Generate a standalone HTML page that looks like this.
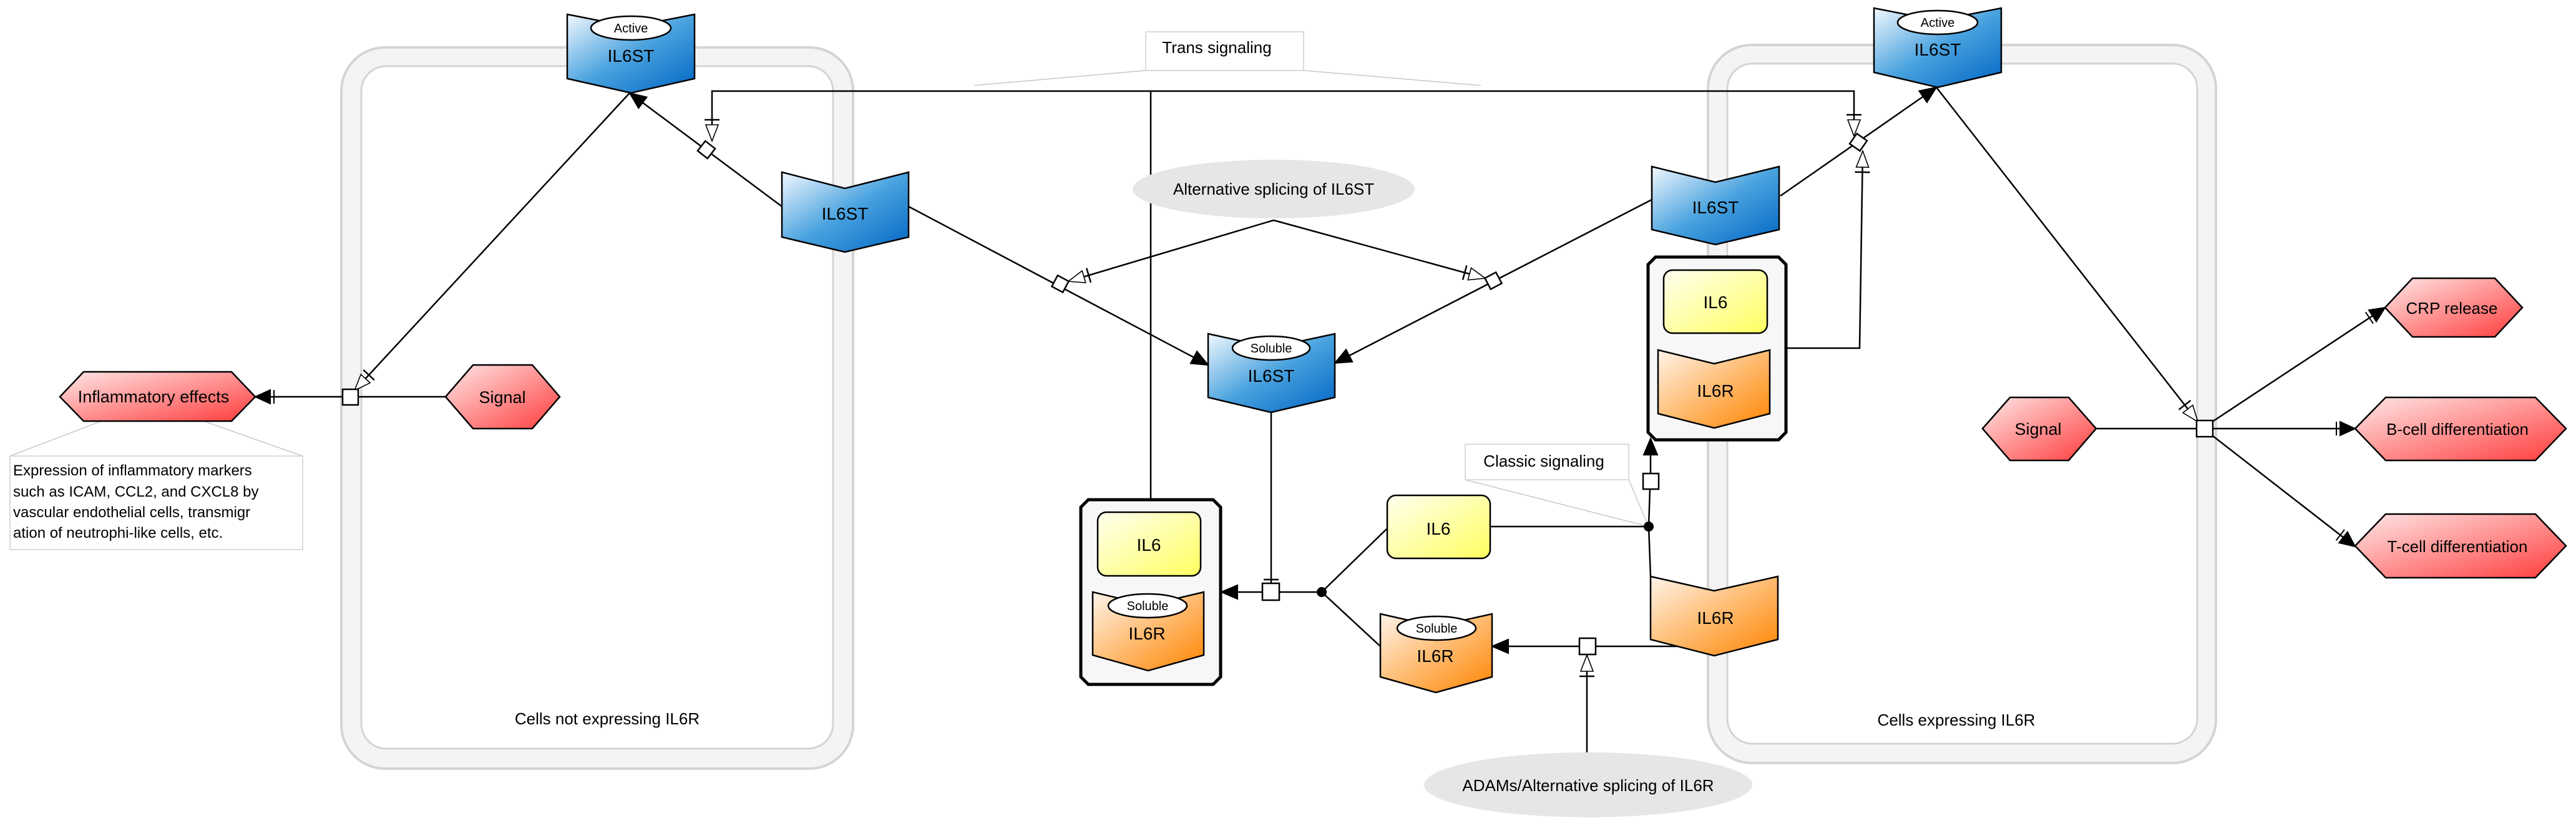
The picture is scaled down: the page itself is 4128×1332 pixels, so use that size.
<!DOCTYPE html>
<html><head><meta charset="utf-8"><style>
html,body{margin:0;padding:0;background:#fff}
svg{display:block}
text{font-family:"Liberation Sans",Arial,sans-serif;fill:#000}
</style></head><body>
<svg width="4128" height="1332" viewBox="0 0 4128 1332" xmlns="http://www.w3.org/2000/svg">
<defs>
<linearGradient id="gb" x1="0" y1="0" x2="1" y2="1"><stop offset="0" stop-color="#f2f8fe"/><stop offset="0.5" stop-color="#4aa3df"/><stop offset="1" stop-color="#0064c4"/></linearGradient>
<linearGradient id="go" x1="0" y1="0" x2="1" y2="1"><stop offset="0" stop-color="#fff4ea"/><stop offset="0.5" stop-color="#ffbb70"/><stop offset="1" stop-color="#ff8400"/></linearGradient>
<linearGradient id="gy" x1="0" y1="0" x2="1" y2="1"><stop offset="0" stop-color="#fffff0"/><stop offset="1" stop-color="#ffff60"/></linearGradient>
<linearGradient id="gr" x1="0" y1="0" x2="1" y2="1"><stop offset="0" stop-color="#ffe8e8"/><stop offset="1" stop-color="#ff3b3b"/></linearGradient>
<marker id="fa" markerUnits="userSpaceOnUse" markerWidth="40" markerHeight="30" refX="36" refY="15" orient="auto" overflow="visible">
<path d="M6,4 L6,26 M36,15 L12,4 L12,26 Z" fill="#000" stroke="#000" stroke-width="2"/></marker>
<marker id="fn" markerUnits="userSpaceOnUse" markerWidth="40" markerHeight="30" refX="36" refY="15" orient="auto" overflow="visible">
<path d="M36,15 L10,4 L10,26 Z" fill="#000" stroke="#000" stroke-width="2"/></marker>
<marker id="oa" markerUnits="userSpaceOnUse" markerWidth="40" markerHeight="30" refX="36" refY="15" orient="auto-start-reverse" overflow="visible">
<path d="M2,3 L2,27" stroke="#000" stroke-width="2.5" fill="none"/>
<path d="M36,15 L10,5 L10,25 Z" fill="#fff" stroke="#000" stroke-width="1.6"/></marker>
</defs>

<rect x="547" y="76" width="820" height="1156" rx="70" fill="#f4f4f4" stroke="#d4d4d4" stroke-width="4"/>
<rect x="579" y="106" width="756" height="1094" rx="40" fill="#fff" stroke="#d4d4d4" stroke-width="3"/>
<rect x="2737" y="72" width="814" height="1151" rx="70" fill="#f4f4f4" stroke="#d4d4d4" stroke-width="4"/>
<rect x="2768" y="102" width="753" height="1090" rx="40" fill="#fff" stroke="#d4d4d4" stroke-width="3"/>
<text x="973" y="1161" font-size="26" text-anchor="middle">Cells not expressing IL6R</text>
<text x="3135" y="1163" font-size="26" text-anchor="middle">Cells expressing IL6R</text>

<g stroke="#c8c8c8" stroke-width="1.5" fill="none">
<path d="M16,731 L241,645 L485,731"/>
<path d="M1561,137 L1836,113 L2089,113 L2373,137"/>
<path d="M2348,769 L2642,844 M2610,769 L2642,844"/>
</g>

<g stroke="#000" stroke-width="2.5" fill="none">
<line x1="714" y1="636" x2="574" y2="636"/>
<line x1="549" y1="636" x2="409" y2="636" marker-end="url(#fa)"/>
<line x1="1009" y1="149" x2="568" y2="626" marker-end="url(#oa)"/>
<line x1="1253" y1="331" x2="1009" y2="149" marker-end="url(#fn)"/>
<polyline points="1141,226 1141,146 2971,146 2971,218" marker-start="url(#oa)" marker-end="url(#oa)"/>
<line x1="1844" y1="146" x2="1844" y2="801"/>
<line x1="2041" y1="353" x2="1712" y2="451" marker-end="url(#oa)"/>
<line x1="2041" y1="353" x2="2380" y2="446" marker-end="url(#oa)"/>
<line x1="1456" y1="331" x2="1936" y2="585" marker-end="url(#fn)"/>
<line x1="2647" y1="320" x2="2139" y2="582" marker-end="url(#fn)"/>
<line x1="2037" y1="661" x2="2037" y2="935"/>
<line x1="2025" y1="929" x2="2049" y2="929"/>
<line x1="2118" y1="949" x2="2050" y2="949"/>
<line x1="2023" y1="949" x2="1957" y2="949" marker-end="url(#fn)"/>
<line x1="2118" y1="949" x2="2223" y2="847"/>
<line x1="2118" y1="949" x2="2212" y2="1036"/>
<line x1="2388" y1="844" x2="2642" y2="844"/>
<line x1="2642" y1="844" x2="2644" y2="784"/>
<line x1="2645" y1="759" x2="2645" y2="703" marker-end="url(#fn)"/>
<line x1="2642" y1="844" x2="2645" y2="924"/>
<line x1="2690" y1="1036" x2="2557" y2="1036"/>
<line x1="2531" y1="1036" x2="2391" y2="1036" marker-end="url(#fn)"/>
<line x1="2543" y1="1206" x2="2543" y2="1050" marker-end="url(#oa)"/>
<line x1="2853" y1="314" x2="3103" y2="140" marker-end="url(#fn)"/>
<polyline points="2862,558 2980,558 2985,242" marker-end="url(#oa)"/>
<line x1="3103" y1="140" x2="3522" y2="676" marker-end="url(#oa)"/>
<line x1="3359" y1="687" x2="3520" y2="687"/>
<line x1="3545" y1="676" x2="3822" y2="493" marker-end="url(#fa)"/>
<line x1="3545" y1="687" x2="3774" y2="687" marker-end="url(#fa)"/>
<line x1="3545" y1="698" x2="3774" y2="876" marker-end="url(#fa)"/>
</g>

<g fill="#fff" stroke="#000" stroke-width="2.5">
<rect x="549" y="624" width="25" height="25"/>
<rect x="2023" y="935" width="27" height="27"/>
<rect x="2633" y="759" width="25" height="25"/>
<rect x="2531" y="1023" width="26" height="26"/>
<rect x="3520" y="674" width="26" height="26"/>
<rect x="1122" y="230" width="20" height="20" transform="rotate(-52 1132 240)"/>
<rect x="1689" y="445" width="20" height="20" transform="rotate(-62 1699 455)"/>
<rect x="2383" y="440" width="20" height="20" transform="rotate(-28 2393 450)"/>
<rect x="2968" y="218" width="20" height="20" transform="rotate(-55 2978 228)"/>
</g>
<g fill="#000"><circle cx="2118" cy="949" r="8"/><circle cx="2642" cy="844" r="8"/></g>

<ellipse cx="2041" cy="303" rx="226" ry="47" fill="#e6e6e6"/>
<text x="2041" y="312" font-size="26" text-anchor="middle">Alternative splicing of IL6ST</text>
<ellipse cx="2545" cy="1258" rx="263" ry="52" fill="#e6e6e6"/>
<text x="2545" y="1268" font-size="26" text-anchor="middle">ADAMs/Alternative splicing of IL6R</text>

<rect x="1836" y="51" width="253" height="62" fill="#fff" stroke="#cfcfcf" stroke-width="1.5"/>
<text x="1950" y="85" font-size="26" text-anchor="middle">Trans signaling</text>
<rect x="2348" y="712" width="262" height="57" fill="#fff" stroke="#cfcfcf" stroke-width="1.5"/>
<text x="2474" y="748" font-size="26" text-anchor="middle">Classic signaling</text>
<rect x="16" y="731" width="469" height="150" fill="#fff" stroke="#cfcfcf" stroke-width="1.5"/>
<g font-size="24"><text x="21" y="762">Expression of inflammatory markers</text><text x="21" y="796">such as ICAM, CCL2, and CXCL8 by</text><text x="21" y="829"> vascular endothelial cells, transmigr</text><text x="21" y="862">ation of neutrophi-like cells, etc.</text></g>

<g stroke="#000" stroke-width="2.5">
<polygon points="909,23 1011,43 1113,23 1113,126 1011,149 909,126" fill="url(#gb)"/>
<polygon points="1253,276 1354,302 1456,276 1456,380 1354,404 1253,380" fill="url(#gb)"/>
<polygon points="1936,535 2037,557 2139,535 2139,637 2037,661 1936,637" fill="url(#gb)"/>
<polygon points="2647,267 2749,292 2851,267 2851,368 2749,392 2647,368" fill="url(#gb)"/>
<polygon points="3003,13 3105,33 3207,13 3207,116 3105,140 3003,116" fill="url(#gb)"/>
<polygon points="2645,924 2747,947 2849,924 2849,1025 2747,1051 2645,1025" fill="url(#go)"/>
<polygon points="2212,984 2301,1004 2391,984 2391,1085 2301,1110 2212,1085" fill="url(#go)"/>
</g>
<polygon points="1744,801 1944,801 1956,813 1956,1085 1944,1097 1744,1097 1732,1085 1732,813" fill="#f7f7f7" stroke="#000" stroke-width="5"/>
<polygon points="2653,412 2850,412 2862,424 2862,693 2850,705 2653,705 2641,693 2641,424" fill="#f7f7f7" stroke="#000" stroke-width="5"/>
<g stroke="#000" stroke-width="2.5">
<rect x="1759" y="821" width="165" height="102" rx="14" fill="url(#gy)"/>
<polygon points="1751,949 1840,970 1929,949 1929,1050 1840,1075 1751,1050" fill="url(#go)"/>
<rect x="2666" y="433" width="166" height="101" rx="14" fill="url(#gy)"/>
<polygon points="2657,561 2747,583 2836,561 2836,663 2747,686 2657,663" fill="url(#go)"/>
<rect x="2223" y="794" width="165" height="101" rx="14" fill="url(#gy)"/>
</g>
<g fill="#fff" stroke="#000" stroke-width="2.5">
<ellipse cx="1011" cy="45" rx="64" ry="19"/>
<ellipse cx="3105" cy="36" rx="64" ry="19"/>
<ellipse cx="2037" cy="558" rx="62" ry="19"/>
<ellipse cx="1839" cy="971" rx="63" ry="19"/>
<ellipse cx="2302" cy="1007" rx="63" ry="19"/>
</g>
<g font-size="20" text-anchor="middle">
<text x="1011" y="52">Active</text><text x="3105" y="43">Active</text>
<text x="2037" y="565">Soluble</text><text x="1839" y="978">Soluble</text><text x="2302" y="1014">Soluble</text>
</g>
<g font-size="28" text-anchor="middle">
<text x="1011" y="99">IL6ST</text><text x="3105" y="89">IL6ST</text>
<text x="1354" y="352">IL6ST</text><text x="2749" y="342">IL6ST</text>
<text x="2037" y="612">IL6ST</text>
<text x="1841" y="883">IL6</text><text x="2749" y="494">IL6</text><text x="2305" y="857">IL6</text>
<text x="1838" y="1025">IL6R</text><text x="2749" y="636">IL6R</text>
<text x="2300" y="1061">IL6R</text><text x="2749" y="1000">IL6R</text>
</g>

<g stroke="#000" stroke-width="2.5" fill="url(#gr)">
<polygon points="96,636 134,596 371,596 409,636 371,675 134,675"/>
<polygon points="714,636 758,585 853,585 897,636 853,687 758,687"/>
<polygon points="3177,687 3221,637 3315,637 3359,687 3315,738 3221,738"/>
<polygon points="3822,493 3866,446 3998,446 4042,493 3998,540 3866,540"/>
<polygon points="3774,687 3823,637 4063,637 4112,687 4063,738 3823,738"/>
<polygon points="3774,875 3823,824 4063,824 4112,875 4063,926 3823,926"/>
</g>
<g font-size="27" text-anchor="middle">
<text x="246" y="645">Inflammatory effects</text>
<text x="805" y="646">Signal</text>
<text x="3266" y="697">Signal</text>
<text x="3929" y="503" font-size="26">CRP release</text>
<text x="3938" y="697" font-size="26">B-cell differentiation</text>
<text x="3938" y="885" font-size="26">T-cell differentiation</text>
</g>
</svg>
</body></html>
